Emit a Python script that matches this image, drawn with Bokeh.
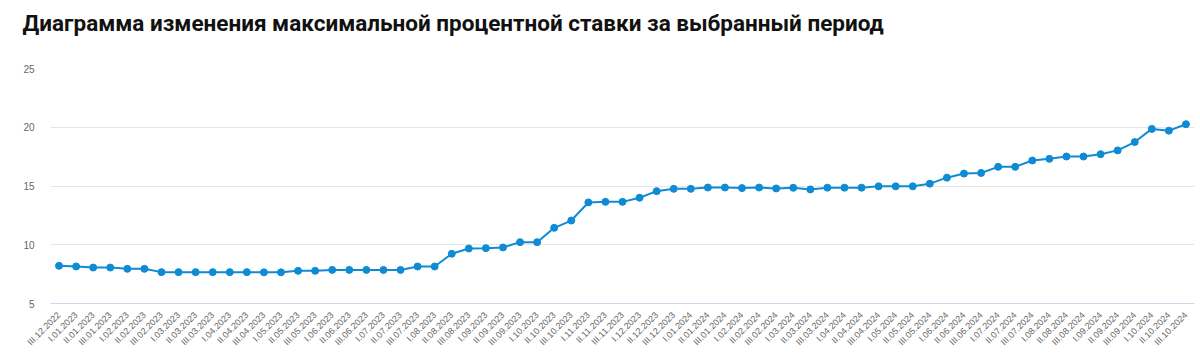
import math
from bokeh.plotting import figure
from bokeh.models import FactorRange, Range1d, FixedTicker, ColumnDataSource, Title
from bokeh.embed import file_html
from bokeh.resources import INLINE

periods = [
    "III.12.2022",
    "I.01.2023", "II.01.2023", "III.01.2023",
    "I.02.2023", "II.02.2023", "III.02.2023",
    "I.03.2023", "II.03.2023", "III.03.2023",
    "I.04.2023", "II.04.2023", "III.04.2023",
    "I.05.2023", "II.05.2023", "III.05.2023",
    "I.06.2023", "II.06.2023", "III.06.2023",
    "I.07.2023", "II.07.2023", "III.07.2023",
    "I.08.2023", "II.08.2023", "III.08.2023",
    "I.09.2023", "II.09.2023", "III.09.2023",
    "I.10.2023", "II.10.2023", "III.10.2023",
    "I.11.2023", "II.11.2023", "III.11.2023",
    "I.12.2023", "II.12.2023", "III.12.2023",
    "I.01.2024", "II.01.2024", "III.01.2024",
    "I.02.2024", "II.02.2024", "III.02.2024",
    "I.03.2024", "II.03.2024", "III.03.2024",
    "I.04.2024", "II.04.2024", "III.04.2024",
    "I.05.2024", "II.05.2024", "III.05.2024",
    "I.06.2024", "II.06.2024", "III.06.2024",
    "I.07.2024", "II.07.2024", "III.07.2024",
    "I.08.2024", "II.08.2024", "III.08.2024",
    "I.09.2024", "II.09.2024", "III.09.2024",
    "I.10.2024", "II.10.2024", "III.10.2024",
]

max_rate = [
    8.21,
    8.15, 8.06, 8.06,
    7.95, 7.95, 7.67,
    7.67, 7.67, 7.67,
    7.67, 7.67, 7.65,
    7.65, 7.78, 7.78,
    7.86, 7.86, 7.86,
    7.86, 7.86, 8.15,
    8.15, 9.23, 9.68,
    9.71, 9.77, 10.22,
    10.22, 11.44, 12.06,
    13.60, 13.65, 13.65,
    14.00, 14.56, 14.76,
    14.76, 14.87, 14.87,
    14.82, 14.87, 14.79,
    14.85, 14.71, 14.86,
    14.86, 14.86, 14.97,
    14.97, 14.97, 15.20,
    15.71, 16.06, 16.11,
    16.63, 16.63, 17.17,
    17.31, 17.51, 17.51,
    17.71, 18.03, 18.74,
    19.86, 19.71, 20.26,
]

y_ticks = [5, 10, 15, 20, 25]

title_text = "Диаграмма изменения максимальной процентной ставки за выбранный период"

source = ColumnDataSource(data=dict(period=periods, rate=max_rate))

p = figure(
    width=1198, height=355,
    x_range=FactorRange(factors=periods),
    y_range=Range1d(5, 25),
    output_backend="svg",
    toolbar_location=None,
    min_border_left=50, min_border_right=4, min_border_top=68, min_border_bottom=52,
)

p.outline_line_color = None
p.background_fill_color = "white"
p.border_fill_color = "white"
p.title.text = ""

# spacer panel next to the frame, then the real title above it
spacer = Title(text=" ", text_font_size="1px", standoff=28, text_color="white")
p.add_layout(spacer, "above")
main_title = Title(
    text=title_text, text_font="Roboto", text_font_style="bold",
    text_font_size="22.5px", text_color="#111111",
    align="left", vertical_align="top", offset=-28, standoff=0,
)
p.add_layout(main_title, "above")

p.line("period", "rate", source=source, line_color="#0f8bd4", line_width=2)
p.scatter("period", "rate", source=source, size=7, fill_color="#0f8bd4", line_color="#0f8bd4")

p.xgrid.grid_line_color = None
p.ygrid.grid_line_color = "#e6e6e6"
p.ygrid.grid_line_width = 1

p.yaxis.ticker = FixedTicker(ticks=y_ticks)
p.yaxis.axis_line_color = None
p.yaxis.major_tick_line_color = None
p.yaxis.minor_tick_line_color = None
p.yaxis.major_label_text_font = "Liberation Sans"
p.yaxis.major_label_text_font_size = "10px"
p.yaxis.major_label_text_color = "#666666"
p.yaxis.major_label_standoff = 10

p.xaxis.axis_line_color = "#ccd6eb"
p.xaxis.major_tick_line_color = None
p.xaxis.minor_tick_line_color = None
p.xaxis.major_label_orientation = math.pi / 4
p.xaxis.major_label_text_font = "Liberation Sans"
p.xaxis.major_label_text_font_size = "9px"
p.xaxis.major_label_text_color = "#666666"
p.xaxis.major_label_standoff = 4

open("out.html", "w").write(file_html(p, INLINE))
